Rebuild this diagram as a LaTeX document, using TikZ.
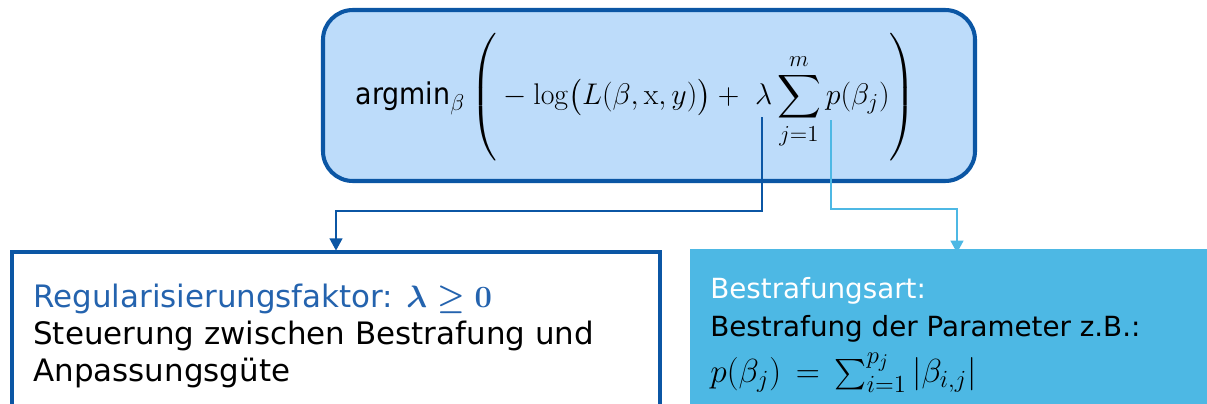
\RequirePackage{fix-cm}
\documentclass[tikz,border=0pt]{standalone}
\usepackage{amsmath}
\usepackage{fontspec}
\newfontfamily\leftfont{DejaVu Sans}
\newfontfamily\argfont{DejaVu Sans Condensed}
\newfontfamily\rightfont{DejaVu Sans}
\usetikzlibrary{arrows.meta}
\DeclareMathSizes{17}{17}{13}{10}
\DeclareMathSizes{19}{19}{14}{11}
\definecolor{darkblue}{HTML}{0B56A4}
\definecolor{topfill}{HTML}{BDDCFA}
\definecolor{lightblue}{HTML}{4DB8E4}
\definecolor{headblue}{HTML}{2463AE}
\tikzset{
  topbox/.style={draw=darkblue, line width=2.3pt, fill=topfill, rounded corners=17pt},
  regboxstyle/.style={draw=darkblue, line width=2.8pt, fill=white},
  penboxstyle/.style={fill=lightblue},
  darkline/.style={draw=darkblue, line width=1.6pt, -{Triangle[length=7pt,width=7pt]}},
  lightline/.style={draw=lightblue, line width=1.6pt, -{Triangle[length=7pt,width=7pt]}},
  lefttext/.style={anchor=north west, align=left, inner sep=0pt, font=\leftfont\fontsize{17.6}{21}\selectfont},
  righttext/.style={anchor=north west, align=left, inner sep=0pt, font=\rightfont\fontsize{15.8}{21.5}\selectfont},
}
\begin{document}
\begin{tikzpicture}[x=0.02cm,y=-0.02cm]
\useasboundingbox (0,0) rectangle (1207,403);
\clip (0,0) rectangle (1207,403);
% top formula box
\path[topbox] (323,10) rectangle (975,181);
\node[inner sep=0pt] (formula) at (636,97) {\fontsize{17}{21}\selectfont
  {\argfont argmin}$_{\beta}\left(\vphantom{\rule{0pt}{38pt}}-\log\bigl(L(\beta,\mathrm{x},y)\bigr)+\ \lambda\displaystyle\sum_{j=1}^{m}p(\beta_j)\right)$};
% bottom boxes
\path[regboxstyle] (12,252) rectangle (660,430);
\node[inner sep=0pt] (regbox) at (336,252) {};
\path[penboxstyle] (690,249) rectangle (1230,430);
\node[inner sep=0pt] (penbox) at (957,249) {};
% texts
\node[lefttext] (regtext) at (33,284) {{\color{headblue}Regularisierungsfaktor: $\boldsymbol{\lambda \geq 0}$}\\
Steuerung zwischen Bestrafung und\\Anpassungsgüte};
\node[righttext] (pentext) at (710,277) {{\color{white}Bestrafungsart:}\\
Bestrafung der Parameter z.B.:\\[5pt]
\fontsize{19}{21}\selectfont$p(\beta_j)\,=\,\sum_{i=1}^{p_j}|\beta_{i,j}|$};
% connectors
\coordinate (lamfoot) at (762,117);
\coordinate (pfoot) at (831,120);
\draw[darkline] (lamfoot) |- (regbox.center |- 0,211) -- (regbox.north);
\draw[lightline] (pfoot) |- (penbox.center |- 0,209) -- ([yshift=-3pt]penbox.north);
\end{tikzpicture}
\end{document}
